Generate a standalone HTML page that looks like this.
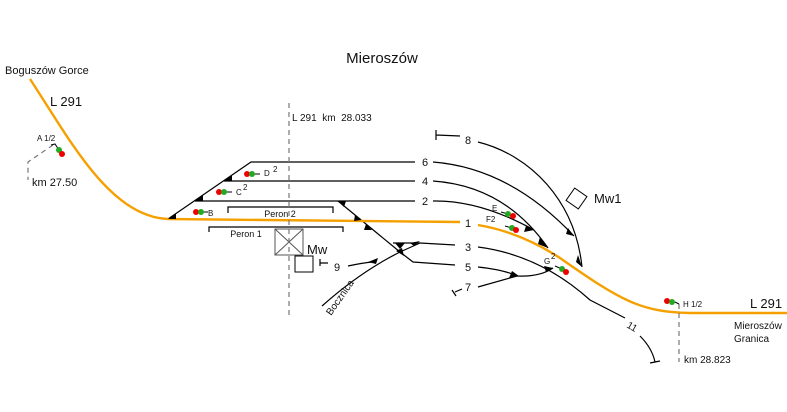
<!DOCTYPE html>
<html><head><meta charset="utf-8"><style>html,body{margin:0;padding:0;background:#fff}svg{display:block}text{font-family:"Liberation Sans",sans-serif;fill:#111}</style></head><body>
<svg width="787" height="412" viewBox="0 0 787 412" xmlns="http://www.w3.org/2000/svg">
<g fill="none" stroke="#000" stroke-width="1.2">
<path d="M168,219 L251,162 L415,162"/>
<path d="M224,181 L415,181"/>
<path d="M195,201 L415,201"/>
<path d="M338,201 L400,252"/>
<path d="M393,243 L420,243 L455,245"/>
<path d="M400,252 L420,243"/>
<path d="M400,252 L413,262 L455,265"/>
<path d="M322,306 Q360,272 400,252"/>
<path d="M348,266 Q362,263 372,262"/>
<path d="M320,259 L320,266 M320,263 L328,263"/>
<path d="M433,162 Q510,168 574,236"/>
<path d="M433,181 Q505,186 548,248"/>
<path d="M433,201 Q480,200 534,230"/>
<path d="M478,142 C530,155 575,200 582,267"/>
<path d="M436,130 L436,140 M436,135 L460,136"/>
<path d="M478,247 Q540,255 590,300 L625,318"/>
<path d="M640,336 Q652,348 655,362 M650,363 L660,361"/>
<path d="M478,267 Q505,270 517,276 Q540,277 553,268"/>
<path d="M478,287 L517,276"/>
<path d="M452,290 L456,296 M455,292 L462,289"/>
<path d="M228,213 L228,207 L333,207 L333,213"/>
<path d="M209,232 L209,227 L343,227 L343,232"/>
</g>
<g fill="none" stroke="#f5a000" stroke-width="2.4">
<path d="M30,79 C70,140 110,217 168,219 L460,222"/>
<path d="M478,225 Q520,232 560,258 C620,300 640,312 690,313 L787,313"/>
</g>
<g fill="none" stroke="#000" stroke-width="1">
<rect x="275" y="229" width="28" height="26" stroke="#555"/>
<path d="M275,229 L303,255 M303,229 L275,255" stroke="#555"/>
<rect x="295" y="256" width="18" height="16"/>
<rect x="569" y="191" width="15" height="15" transform="rotate(35 576.5 198.5)"/>
</g>
<g fill="none" stroke="#777" stroke-width="1.2" stroke-dasharray="5,4">
<path d="M289,103 L289,318"/>
<path d="M679,304 L679,362"/>
<path d="M53,145 L28,162 L28,180"/>
</g>
<g fill="#000">
<polygon points="168,219 176,213 176,219"/>
<polygon points="195,201 203,195 203,201"/>
<polygon points="224,181 232,175 232,181"/>
<polygon points="338,201 346,201 344,207"/>
<polygon points="355,215 361,220 354,221"/>
<polygon points="366,224 372,230 364,230"/>
<polygon points="395,243 405,243 400,249"/>
<polygon points="396,251 402,248 404,256"/>
<polygon points="410,243 420,241 414,246"/>
<polygon points="368,262 378,258 376,264"/>
<polygon points="526,226 534,230 524,232"/>
<polygon points="540,237 548,248 538,244"/>
<polygon points="568,228 574,236 566,234"/>
<polygon points="578,255 582,267 576,262"/>
<polygon points="512,271 519,276 509,278"/>
<polygon points="544,266 553,268 546,272"/>
</g>
<g>
<circle cx="196" cy="212" r="3" fill="#e00"/><circle cx="201" cy="212" r="3" fill="#2a2"/><path d="M204,212 L208,212" stroke="#000"/>
<circle cx="219" cy="192" r="3" fill="#e00"/><circle cx="224" cy="192" r="3" fill="#2a2"/><path d="M227,192 L232,192" stroke="#000"/>
<circle cx="247" cy="174" r="3" fill="#e00"/><circle cx="252" cy="174" r="3" fill="#2a2"/><path d="M255,174 L260,174" stroke="#000"/>
<path d="M51,145 L55,144 L59,150" stroke="#000" fill="none"/><circle cx="59" cy="150" r="3" fill="#2a2"/><circle cx="62" cy="154" r="3" fill="#e00"/>
<path d="M501,212 L508,214" stroke="#000"/><circle cx="508" cy="214" r="3" fill="#2a2"/><circle cx="513" cy="216" r="3" fill="#e00"/>
<path d="M505,226 L512,228" stroke="#000"/><circle cx="512" cy="228" r="3" fill="#2a2"/><circle cx="516" cy="230" r="3" fill="#e00"/>
<path d="M555,266 L562,269" stroke="#000"/><circle cx="562" cy="269" r="3" fill="#2a2"/><circle cx="566" cy="272" r="3" fill="#e00"/>
<circle cx="667" cy="301" r="3" fill="#e00"/><circle cx="672" cy="302" r="3" fill="#2a2"/><path d="M675,302 L679,304" stroke="#000"/>
</g>
<text x="382" y="63" font-size="15" text-anchor="middle">Mieroszów</text>
<text x="5" y="74" font-size="11">Boguszów Gorce</text>
<text x="50" y="106" font-size="13">L 291</text>
<text x="37" y="141" font-size="8">A 1/2</text>
<text x="32" y="186" font-size="11">km 27.50</text>
<text x="292" y="121" font-size="10">L 291&#160;&#160;km&#160;&#160;28.033</text>
<text x="208" y="216" font-size="8">B</text>
<text x="236" y="195" font-size="8">C</text><text x="243" y="190" font-size="8">2</text>
<text x="264" y="176" font-size="8">D</text><text x="273" y="172" font-size="8">2</text>
<text x="280" y="217" font-size="9" text-anchor="middle">Peron 2</text>
<text x="246" y="237" font-size="9" text-anchor="middle">Peron 1</text>
<text x="307" y="254" font-size="13">Mw</text>
<text x="334" y="271" font-size="11">9</text>
<text x="331" y="316" font-size="10" transform="rotate(-55 331 316)">Bocznica</text>
<g font-size="11" text-anchor="middle">
<text x="425" y="166">6</text><text x="425" y="185">4</text><text x="425" y="205">2</text>
<text x="468" y="227">1</text><text x="468" y="251">3</text><text x="468" y="271">5</text>
<text x="468" y="291">7</text><text x="468" y="144">8</text>
</g>
<text x="492" y="211" font-size="8">E</text>
<text x="486" y="222" font-size="8">F2</text>
<text x="544" y="264" font-size="8">G</text><text x="551" y="259" font-size="8">2</text>
<text x="594" y="203" font-size="13">Mw1</text>
<text x="626" y="327" font-size="10" transform="rotate(30 626 327)">11</text>
<text x="683" y="307" font-size="8">H 1/2</text>
<text x="750" y="308" font-size="13">L 291</text>
<text x="734" y="329" font-size="10">Mieroszów</text>
<text x="734" y="342" font-size="10">Granica</text>
<text x="684" y="363" font-size="10">km 28.823</text>
</svg>
</body></html>
